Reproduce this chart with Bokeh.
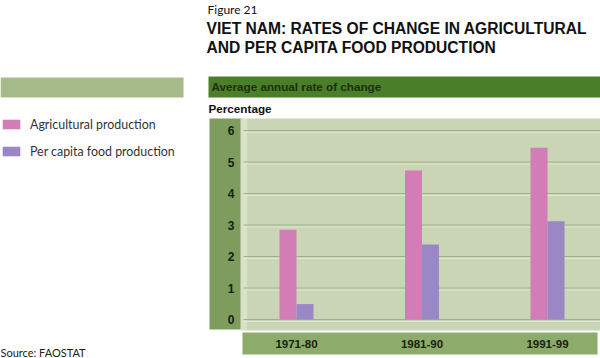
from bokeh.plotting import figure
from bokeh.models import Range1d, Legend, LegendItem, ColumnDataSource
from bokeh.transform import dodge
from bokeh.core.properties import value
from bokeh.embed import file_html
from bokeh.resources import INLINE

# ---- data ----
periods = ["1971-80", "1981-90", "1991-99"]
agricultural = [2.85, 4.73, 5.45]
per_capita_food = [0.49, 2.38, 3.12]
y_ticks = [0, 1, 2, 3, 4, 5, 6]
y_tick_labels = ["0", "1", "2", "3", "4", "5", "6"]
series_names = ["Agricultural production", "Per capita food production"]

positions = list(range(1, len(periods) + 1))

# ---- page geometry (page pixels) ----
OX, OY = 0, 0          # where the canvas sits on the page
W, H = 600, 358
X_AT_1, X_UNIT = 296.0, 125.5     # pixel of category 1, pixels per category
Y_AT_0, Y_UNIT = 319.0, 31.5      # pixel of value 0, pixels per unit

PINK = "#d27db6"
PURPLE = "#9a88c6"
FONT = "Liberation Sans"
DARK = "#16220d"

p = figure(width=W, height=H, output_backend="svg", toolbar_location=None,
           x_range=Range1d(OX, OX + W), y_range=Range1d(OY + H, OY),
           min_border=0, border_fill_color="white", background_fill_color="white",
           outline_line_color=None, x_axis_location=None, y_axis_location=None)
p.grid.visible = False

p.extra_x_ranges = {"data": Range1d(1 - (X_AT_1 - OX) / X_UNIT, 1 + (OX + W - X_AT_1) / X_UNIT)}
p.extra_y_ranges = {
    "data": Range1d(-(OY + H - Y_AT_0) / Y_UNIT, (Y_AT_0 - OY) / Y_UNIT),
    "shadow": Range1d(-(OY + H - Y_AT_0 - 2) / Y_UNIT, (Y_AT_0 + 2 - OY) / Y_UNIT),
}

# ---- bands / panels ----
bands = dict(
    left=[0, 208, 209, 240, 246, 242],
    right=[183, 600, 242, 246, 600, 597],
    top=[77, 76, 118, 118, 118, 332],
    bottom=[97, 97, 329, 330, 330, 354],
    color=["#a6bb89", "#4b7e29", "#7e9c5d", "#d8e2c8", "#c9d5b5", "#8dab6b"],
)
p.quad(left="left", right="right", top="top", bottom="bottom", fill_color="color",
       line_color=None, source=ColumnDataSource(bands))

# ---- grid lines (through the data y scale) ----
n = len(y_ticks)
p.segment(x0=[243] * n, x1=[600] * n, y0=y_ticks, y1=y_ticks, y_range_name="shadow",
          line_color="#dfe7d5", line_width=1)
p.segment(x0=[243] * n, x1=[600] * n, y0=y_ticks, y1=y_ticks, y_range_name="data",
          line_color="#9fb08a", line_width=1)

# ---- bars ----
src = ColumnDataSource(dict(x=positions, agri=agricultural, food=per_capita_food))
w = 17 / X_UNIT
r1 = p.vbar(x=dodge("x", -w / 2, range=p.extra_x_ranges["data"]), top="agri", bottom=0,
            width=w, source=src, fill_color=PINK, line_color=None,
            x_range_name="data", y_range_name="data")
r2 = p.vbar(x=dodge("x", w / 2, range=p.extra_x_ranges["data"]), top="food", bottom=0,
            width=w, source=src, fill_color=PURPLE, line_color=None,
            x_range_name="data", y_range_name="data")

# ---- tick labels ----
p.text(x=[234] * n, y=y_ticks, text=y_tick_labels, y_range_name="data",
       text_font=value(FONT), text_font_style="bold", text_font_size="12px",
       text_color=DARK, text_align="right", text_baseline="middle")
p.text(x=positions, y=[343] * len(periods), text=periods, x_range_name="data",
       text_font=value(FONT), text_font_style="bold", text_font_size="11.5px",
       text_color=DARK, text_align="center", text_baseline="middle")

# ---- texts ----
def lab(x, y, text, size, bold=False, color="#111111", font=FONT):
    p.text(x=[x], y=[y], text=[text], text_font=value(font), text_font_size=size,
           text_font_style="bold" if bold else "normal", text_color=color,
           text_baseline="middle", text_align="left")

lab(207, 8.5, "Figure 21", "12px", font="Lato")
lab(206, 28, "VIET NAM: RATES OF CHANGE IN AGRICULTURAL", "15.6px", bold=True)
lab(206, 47, "AND PER CAPITA FOOD PRODUCTION", "15.6px", bold=True)
lab(211, 86, "Average annual rate of change", "11.7px", bold=True, color="#1b300e")
lab(208, 108, "Percentage", "11.7px", bold=True)
lab(0, 351.5, "Source: FAOSTAT", "11px", font="Lato", color="#222222")

# ---- legend ----
LEG_TOP, LEG_H = 114, 47
legend = Legend(items=[LegendItem(label=series_names[0], renderers=[r1]),
                       LegendItem(label=series_names[1], renderers=[r2])],
                location=(-OX, (OY + H) - LEG_TOP - LEG_H), padding=0, margin=0,
                glyph_width=22, glyph_height=12, label_height=20, spacing=7,
                label_standoff=8, background_fill_alpha=0, border_line_alpha=0,
                label_text_font="Lato", label_text_font_size="12.4px",
                label_text_color="#333333")
p.add_layout(legend)

open("out.html", "w").write(file_html(p, INLINE))
